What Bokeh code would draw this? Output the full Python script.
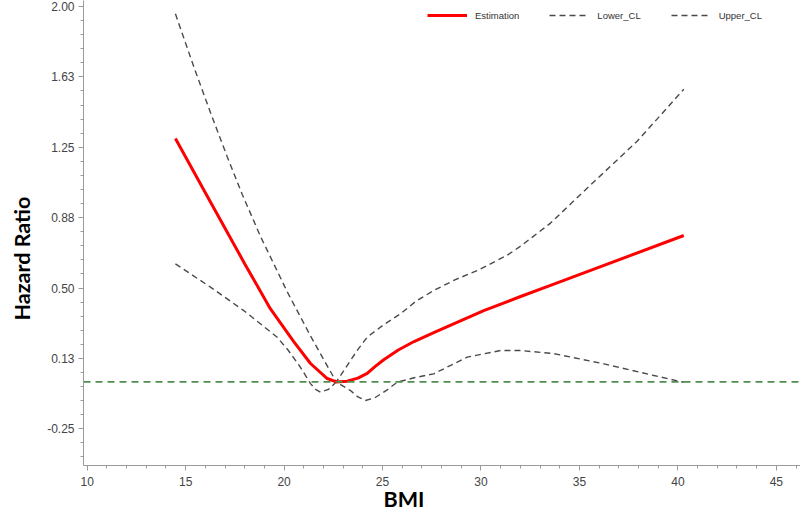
from bokeh.plotting import figure
from bokeh.models import FixedTicker, Span, Legend, LegendItem, Range1d, Title
from bokeh.embed import file_html
from bokeh.resources import INLINE
import numpy as np

# ---- data ----
est_x = [14.48, 16.26, 18.04, 19.30, 20.49, 21.34, 22.19, 22.65, 23.20, 23.75, 24.22, 24.60, 25.06, 25.80, 26.60, 27.60, 30.14, 32.01, 33.53, 40.30]
est_y = [1.297, 0.958, 0.622, 0.390, 0.215, 0.098, 0.018, 0.000, 0.004, 0.020, 0.045, 0.080, 0.118, 0.170, 0.215, 0.262, 0.380, 0.455, 0.514, 0.780]

upper_x = [14.48, 15.41, 16.26, 17.11, 17.87, 18.80, 20.16, 21.34, 22.65, 23.00, 23.37, 23.80, 24.22, 25.00, 25.91, 26.70, 27.60, 28.70, 29.81, 31.33, 32.01, 33.53, 35.39, 37.93, 40.30]
upper_y = [1.961, 1.680, 1.435, 1.200, 1.000, 0.775, 0.480, 0.245, 0.000, 0.055, 0.114, 0.180, 0.238, 0.300, 0.363, 0.430, 0.487, 0.545, 0.593, 0.675, 0.723, 0.846, 1.032, 1.282, 1.559]

lower_x = [14.48, 16.26, 17.95, 19.65, 20.20, 20.83, 21.34, 21.60, 21.85, 22.25, 22.65, 23.37, 23.75, 24.13, 24.60, 25.20, 25.74, 26.60, 27.60, 29.30, 30.99, 32.01, 33.69, 36.25, 38.78, 40.30]
lower_y = [0.629, 0.505, 0.380, 0.238, 0.170, 0.078, -0.009, -0.040, -0.055, -0.040, 0.000, -0.046, -0.080, -0.099, -0.085, -0.045, -0.002, 0.022, 0.043, 0.132, 0.167, 0.167, 0.151, 0.096, 0.034, -0.002]

reference_value = 0.0

x_ticks = [10, 15, 20, 25, 30, 35, 40, 45]
y_ticks = [-0.25, 0.125, 0.5, 0.875, 1.25, 1.625, 2.0]
y_tick_labels = ["-0.25", "0.13", "0.50", "0.88", "1.25", "1.63", "2.00"]

series_names = ["Estimation", "Lower_CL", "Upper_CL"]
x_label = "BMI"
y_label = "Hazard Ratio"

# ---- figure ----
p = figure(width=800, height=522, output_backend="svg", toolbar_location=None,
           x_range=Range1d(9.812, 46.227), y_range=Range1d(-0.4454, 2.032),
           min_border_left=83, min_border_right=0, min_border_top=0, min_border_bottom=57)
p.outline_line_color = None
p.grid.visible = False
p.background_fill_color = "white"
p.border_fill_color = "white"

ref = Span(location=reference_value, dimension="width", line_color="#4f8f4f",
           line_width=1.6, line_dash="7 5")
p.add_layout(ref)

r_up = p.line(upper_x, upper_y, line_color="#4a4a4a", line_width=1.4, line_dash="6 4")
r_lo = p.line(lower_x, lower_y, line_color="#4a4a4a", line_width=1.4, line_dash="6 4")
r_est = p.line(est_x, est_y, line_color="#ff0000", line_width=3, line_join="round")

# axes
major_step_x = 5
minor_x = [v for v in np.arange(10, 46.5, 1.0) if v % major_step_x != 0]
p.xaxis.ticker = FixedTicker(ticks=x_ticks, minor_ticks=minor_x)
step_y = (y_ticks[1] - y_ticks[0]) / 5
minor_y = list(np.arange(y_ticks[0] - 2 * step_y, y_ticks[-1] + 1e-9, step_y))
p.yaxis.ticker = FixedTicker(ticks=y_ticks, minor_ticks=minor_y)
p.yaxis.major_label_overrides = {t: l for t, l in zip(y_ticks, y_tick_labels)}

for ax in (p.xaxis[0], p.yaxis[0]):
    ax.axis_line_color = "#9a9a9a"
    ax.major_tick_line_color = "#9a9a9a"
    ax.minor_tick_line_color = "#9a9a9a"
    ax.major_tick_out = 5
    ax.major_tick_in = 0
    ax.minor_tick_out = 3
    ax.minor_tick_in = 0
    ax.major_label_text_font = "Liberation Sans"
    ax.major_label_text_font_size = "12px"
    ax.major_label_text_color = "#444444"

p.xaxis.major_label_standoff = 6
p.yaxis.major_label_standoff = 4

# axis titles, offset along the axes to match the reference's placement
xt = Title(text=x_label, align="left", offset=300, standoff=-10,
           text_font="Lato", text_font_style="bold", text_font_size="21.5px",
           text_color="#000000")
p.add_layout(xt, "below")
yt = Title(text=y_label, align="left", offset=145, standoff=16, vertical_align="top",
           text_font="Lato", text_font_style="bold", text_font_size="21.5px",
           text_color="#000000")
p.add_layout(yt, "left")

legend = Legend(items=[LegendItem(label=series_names[0], renderers=[r_est]),
                       LegendItem(label=series_names[1], renderers=[r_lo]),
                       LegendItem(label=series_names[2], renderers=[r_up])],
                orientation="horizontal", location=(344, 443),
                border_line_color=None, background_fill_alpha=0,
                padding=0, margin=0, spacing=30, glyph_width=40, glyph_height=14,
                label_height=14, label_standoff=8,
                label_text_font="Liberation Sans", label_text_font_size="9.5px",
                label_text_color="#333333")
p.add_layout(legend)

open("out.html", "w").write(file_html(p, INLINE))
